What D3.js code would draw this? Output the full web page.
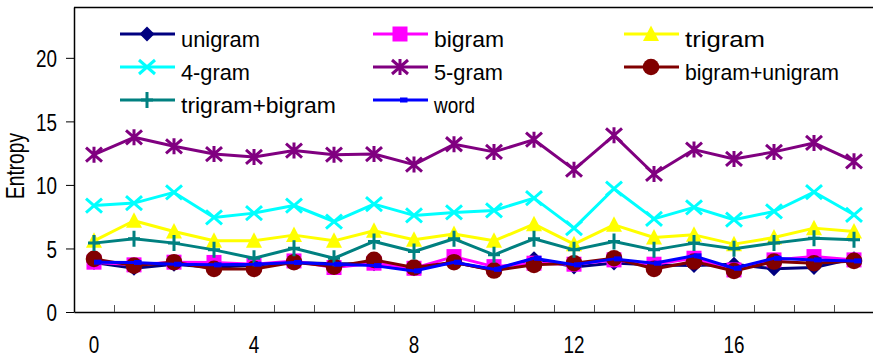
<!DOCTYPE html>
<html><head><meta charset="utf-8">
<script src="https://cdn.jsdelivr.net/npm/d3@7"></script>
<style>
html,body{margin:0;padding:0;background:#fff;}
svg{display:block;font-family:"Liberation Sans",Arial,sans-serif;}
</style></head>
<body><svg id="c" width="873" height="358"></svg>
<script>
const categories = d3.range(20);
const xTickLabels = [0, 4, 8, 12, 16];
const yTickValues = [0, 5, 10, 15, 20];

const unigram = [3.9, 3.45, 3.75, 3.5, 3.7, 3.9, 3.8, 3.8, 3.4, 3.9, 3.3, 4.2, 3.55, 3.85, 3.7, 3.65, 3.75, 3.4, 3.5, 4.2];
const bigram = [3.92, 3.71, 3.92, 3.9, 3.75, 4.02, 3.5, 3.84, 3.44, 4.36, 3.57, 3.84, 3.76, 4.1, 3.76, 4.23, 3.31, 4.1, 4.36, 4.1];
const trigram = [5.6, 7.18, 6.33, 5.6, 5.6, 6.05, 5.6, 6.39, 5.68, 6.13, 5.6, 6.91, 5.34, 6.86, 5.86, 6.07, 5.34, 5.86, 6.6, 6.33];
const fourgram = [8.38, 8.57, 9.41, 7.44, 7.78, 8.38, 7.12, 8.49, 7.6, 7.83, 7.99, 8.96, 6.6, 9.7, 7.33, 8.23, 7.26, 7.91, 9.44, 7.65];
const fivegram = [12.38, 13.75, 13.04, 12.43, 12.2, 12.7, 12.38, 12.43, 11.6, 13.2, 12.6, 13.56, 11.2, 13.9, 10.86, 12.78, 12.04, 12.6, 13.3, 11.86];
const bigramUnigram = [4.18, 3.65, 3.92, 3.39, 3.39, 3.92, 3.57, 4.1, 3.5, 3.92, 3.26, 3.71, 3.84, 4.23, 3.39, 3.97, 3.23, 3.97, 3.84, 4.02];
const trigramBigram = [5.42, 5.76, 5.42, 4.89, 4.23, 5.02, 4.23, 5.55, 4.76, 5.76, 4.5, 5.76, 4.89, 5.55, 4.89, 5.42, 4.97, 5.42, 5.81, 5.68];
const word = [3.92, 3.9, 3.76, 3.71, 3.76, 3.9, 3.76, 3.65, 3.23, 3.92, 3.36, 4.23, 3.71, 4.18, 3.84, 4.42, 3.44, 4.23, 4.1, 4.02];

const seriesNames = ["unigram", "bigram", "trigram", "4-gram", "5-gram", "bigram+unigram", "trigram+bigram", "word"];
const seriesValues = [unigram, bigram, trigram, fourgram, fivegram, bigramUnigram, trigramBigram, word];
const seriesColors = ["#000080", "#FF00FF", "#FFFF00", "#00FFFF", "#800080", "#800000", "#008080", "#0000FF"];
const seriesMarkers = ["diamond", "square", "triangle", "x", "asterisk", "circle", "plus", "dash"];

const FONT = '"Liberation Sans",Arial,sans-serif';
const svg = d3.select("#c");
const L = 74, R = 874, T = 7, B = 312;
const x = d3.scaleBand().domain(categories).range([L, R]).padding(0);
const xb = d3.scaleLinear().domain([0, 20]).range([L, R]);
const y = d3.scaleLinear().domain([0, 24]).range([B, T]);
const cx = i => x(i) + x.bandwidth() / 2;

// frame top
svg.append("line").attr("x1", L).attr("x2", R).attr("y1", T + 0.5).attr("y2", T + 0.5)
  .attr("stroke", "#000").attr("stroke-width", 1.5);

const digitW = 10.5;
// y axis
const ya = svg.append("g").attr("transform", `translate(${L},0)`)
  .call(d3.axisLeft(y).tickValues(yTickValues).tickSize(8).tickPadding(9).tickSizeOuter(0));
ya.attr("font-size", null).attr("font-family", null);
ya.select(".domain").attr("stroke-width", 1.5);
ya.selectAll("text").style("font-size", "24px").style("font-family", FONT).attr("fill", "#000").attr("dy", "0.36em")
  .attr("textLength", d => String(d).length * digitW).attr("lengthAdjust", "spacingAndGlyphs");

// x axis (inner ticks at band boundaries)
const xa = svg.append("g").attr("transform", `translate(0,${B})`)
  .call(d3.axisTop(xb).tickValues(d3.range(1, 20)).tickSize(7).tickFormat("").tickSizeOuter(0));
xa.select(".domain").attr("stroke-width", 1.5);
xa.selectAll(".tick line").attr("stroke", "#555");
const xl = svg.append("g").attr("transform", `translate(0,${B})`)
  .call(d3.axisBottom(x).tickValues(xTickLabels).tickSize(0).tickPadding(0));
xl.attr("font-size", null).attr("font-family", null);
xl.select(".domain").remove();
xl.selectAll("text").style("font-size", "23px").style("font-family", FONT).attr("fill", "#000")
  .attr("y", 41).attr("dy", null)
  .attr("textLength", d => String(d).length * digitW).attr("lengthAdjust", "spacingAndGlyphs");

// y label
svg.append("text").attr("transform", "translate(24,166) rotate(-90)")
  .attr("text-anchor", "middle").style("font-size", "26px").style("font-family", FONT)
  .attr("textLength", 66).attr("lengthAdjust", "spacingAndGlyphs")
  .text("Entropy");

function drawMarker(g, type, px, py, color) {
  const s = 7.5;
  if (type === "diamond") {
    g.append("path").attr("d", `M${px},${py - s}L${px + s},${py}L${px},${py + s}L${px - s},${py}Z`).attr("fill", color);
  } else if (type === "square") {
    g.append("rect").attr("x", px - 7.5).attr("y", py - 7.5).attr("width", 15).attr("height", 15).attr("fill", color);
  } else if (type === "triangle") {
    g.append("path").attr("d", `M${px},${py - 8.5}L${px + 8},${py + 7}L${px - 8},${py + 7}Z`).attr("fill", color);
  } else if (type === "x") {
    g.append("path").attr("d", `M${px - 8},${py - 7}L${px + 8},${py + 7}M${px - 8},${py + 7}L${px + 8},${py - 7}`)
      .attr("stroke", color).attr("stroke-width", 3).attr("fill", "none");
  } else if (type === "asterisk") {
    g.append("path").attr("d", `M${px - 8},${py - 7}L${px + 8},${py + 7}M${px - 8},${py + 7}L${px + 8},${py - 7}M${px},${py - 8}L${px},${py + 8}`)
      .attr("stroke", color).attr("stroke-width", 3).attr("fill", "none");
  } else if (type === "circle") {
    g.append("circle").attr("cx", px).attr("cy", py).attr("r", 8.3).attr("fill", color);
  } else if (type === "plus") {
    g.append("path").attr("d", `M${px - 6},${py}L${px + 6},${py}M${px},${py - 8}L${px},${py + 8}`)
      .attr("stroke", color).attr("stroke-width", 3).attr("fill", "none");
  } else if (type === "dash") {
    g.append("rect").attr("x", px).attr("y", py - 2.5).attr("width", 7.5).attr("height", 5).attr("fill", color);
  }
}

const line = d3.line().x((d, i) => cx(i)).y(d => y(d));
seriesValues.forEach((vals, k) => {
  const g = svg.append("g");
  g.append("path").datum(vals).attr("d", line).attr("fill", "none")
    .attr("stroke", seriesColors[k]).attr("stroke-width", 3).attr("stroke-linejoin", "round");
  vals.forEach((v, i) => drawMarker(g, seriesMarkers[k], cx(i), y(v), seriesColors[k]));
});

// legend
const legCols = [120, 373, 624];
const legLineY = [34, 67, 100];
const legTextY = [47, 80, 113];
const legWidths = [79, 70, 80, 69, 69, 154, 155, 41];
seriesNames.forEach((name, k) => {
  const col = k % 3, row = Math.floor(k / 3);
  const g = svg.append("g");
  const x0 = legCols[col];
  g.append("line").attr("x1", x0).attr("x2", x0 + 55).attr("y1", legLineY[row]).attr("y2", legLineY[row])
    .attr("stroke", seriesColors[k]).attr("stroke-width", 3);
  drawMarker(g, seriesMarkers[k], x0 + 27, legLineY[row], seriesColors[k]);
  g.append("text").attr("x", x0 + 61).attr("y", legTextY[row]).style("font-size", "22px").style("font-family", FONT)
    .attr("textLength", legWidths[k]).attr("lengthAdjust", "spacingAndGlyphs").text(name);
});
</script></body></html>
